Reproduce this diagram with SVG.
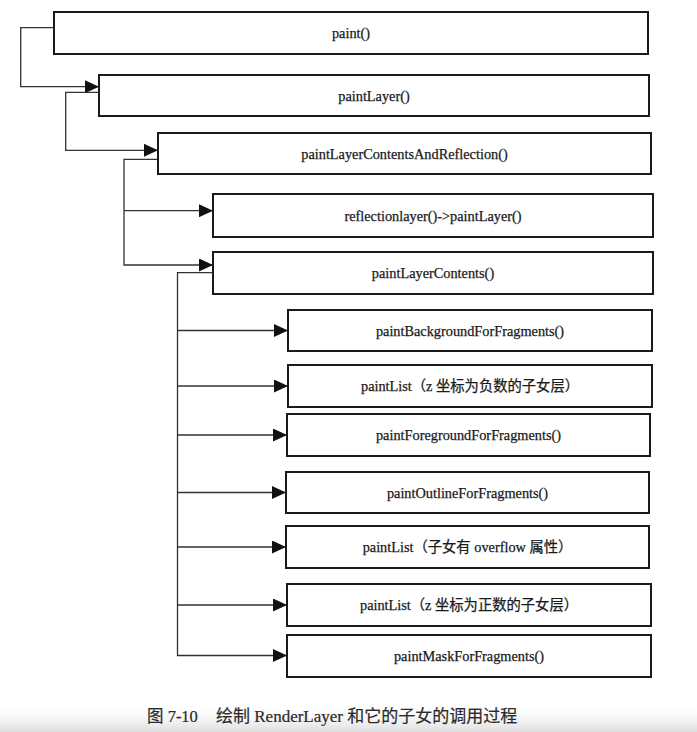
<svg xmlns="http://www.w3.org/2000/svg" width="697" height="732" viewBox="0 0 697 732">
<style>
.box{fill:#fff;stroke:#1a1a1a;stroke-width:2}
.lbl{font-family:"Liberation Serif","Noto Sans CJK SC",serif;font-size:14.3px;fill:#1a1a1a;stroke:#1a1a1a;stroke-width:0.25;text-anchor:middle}
.con{fill:none;stroke:#333;stroke-width:1.3}
.cap{font-family:"Liberation Serif","Noto Sans CJK SC",serif;font-size:16.5px;fill:#2a2a2a;stroke:#2a2a2a;stroke-width:0.2}
</style>
<defs>
<marker id="arr" viewBox="0 0 14 13" refX="14" refY="6.5" markerWidth="14" markerHeight="13" markerUnits="userSpaceOnUse" orient="auto">
<path d="M0,0 L14,6.5 L0,13 Z" fill="#111"/>
</marker>
<linearGradient id="shade" x1="0" y1="0" x2="0" y2="1">
<stop offset="0" stop-color="#ffffff" stop-opacity="0"/>
<stop offset="1" stop-color="#dcdcdc" stop-opacity="1"/>
</linearGradient>
</defs>
<rect x="0" y="0" width="697" height="732" fill="#fff"/>
<rect x="0" y="704" width="697" height="28" fill="url(#shade)"/>

<g id="connectors">
<path class="con" d="M54,27.7 H20.7 V86.7 H99" marker-end="url(#arr)"/>
<path class="con" d="M99,92.3 H65.7 V150.3 H158" marker-end="url(#arr)"/>
<path class="con" d="M158,159.3 H124 V265 H213" marker-end="url(#arr)"/>
<path class="con" d="M124,210.7 H213" marker-end="url(#arr)"/>
<path class="con" d="M213,272.7 H177.5 V655.5 H287" marker-end="url(#arr)"/>
<path class="con" d="M177.5,330.5 H288" marker-end="url(#arr)"/>
<path class="con" d="M177.5,386 H288" marker-end="url(#arr)"/>
<path class="con" d="M177.5,435 H287" marker-end="url(#arr)"/>
<path class="con" d="M177.5,492.5 H286" marker-end="url(#arr)"/>
<path class="con" d="M177.5,547 H286" marker-end="url(#arr)"/>
<path class="con" d="M177.5,605 H287" marker-end="url(#arr)"/>
</g>

<g id="paint"><rect class="box" x="54" y="12" width="594" height="42"/><text class="lbl" x="351" y="38">paint()</text></g>
<g id="paintLayer"><rect class="box" x="99" y="75" width="550" height="41"/><text class="lbl" x="374" y="100.5">paintLayer()</text></g>
<g id="paintLayerContentsAndReflection"><rect class="box" x="158" y="133" width="493" height="41"/><text class="lbl" x="404.5" y="158.5">paintLayerContentsAndReflection()</text></g>
<g id="reflectionlayer"><rect class="box" x="213" y="194" width="440" height="43"/><text class="lbl" x="433" y="220.5">reflectionlayer()-&gt;paintLayer()</text></g>
<g id="paintLayerContents"><rect class="box" x="213" y="252" width="440" height="42"/><text class="lbl" x="433" y="278">paintLayerContents()</text></g>
<g id="paintBackgroundForFragments"><rect class="box" x="288" y="310" width="364" height="41"/><text class="lbl" x="470" y="335.5">paintBackgroundForFragments()</text></g>
<g id="paintListNeg"><rect class="box" x="288" y="365" width="364" height="42"/><text class="lbl" x="470" y="391">paintList（z 坐标为负数的子女层）</text></g>
<g id="paintForegroundForFragments"><rect class="box" x="287" y="414" width="363" height="42"/><text class="lbl" x="468.5" y="440">paintForegroundForFragments()</text></g>
<g id="paintOutlineForFragments"><rect class="box" x="286" y="472" width="363" height="41"/><text class="lbl" x="467.5" y="497.5">paintOutlineForFragments()</text></g>
<g id="paintListOverflow"><rect class="box" x="286" y="526" width="363" height="42"/><text class="lbl" x="467.5" y="552">paintList（子女有 overflow 属性）</text></g>
<g id="paintListPos"><rect class="box" x="287" y="584" width="364" height="42"/><text class="lbl" x="469" y="610">paintList（z 坐标为正数的子女层）</text></g>
<g id="paintMaskForFragments"><rect class="box" x="287" y="635" width="364" height="42"/><text class="lbl" x="469" y="661">paintMaskForFragments()</text></g>

<g id="caption">
<text class="cap" x="147" y="722">图 7-10</text>
<text class="cap" x="216" y="722" style="font-size:17px">绘制 RenderLayer 和它的子女的调用过程</text>
</g>
</svg>
